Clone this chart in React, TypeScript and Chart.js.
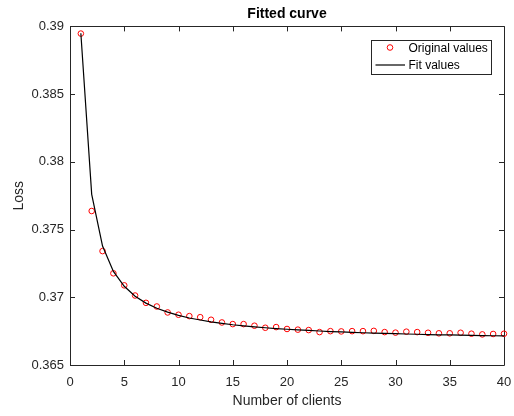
import React, { useEffect, useRef } from "react";
import { Chart, registerables } from "chart.js";

Chart.register(...registerables);

const clients = [1, 2, 3, 4, 5, 6, 7, 8, 9, 10, 11, 12, 13, 14, 15, 16, 17, 18, 19, 20, 21, 22, 23, 24, 25, 26, 27, 28, 29, 30, 31, 32, 33, 34, 35, 36, 37, 38, 39, 40];

const originalLoss = [0.38947, 0.37637, 0.37341, 0.37177, 0.37088, 0.37013, 0.36959, 0.36932, 0.36888, 0.36871, 0.36861, 0.36853, 0.36834, 0.36814, 0.36802, 0.36802, 0.3679, 0.36775, 0.3678, 0.36766, 0.36761, 0.36758, 0.36743, 0.3675, 0.36748, 0.3675, 0.3675, 0.36752, 0.36743, 0.36739, 0.36746, 0.36743, 0.36738, 0.36734, 0.36734, 0.36738, 0.36731, 0.36726, 0.36729, 0.36731];

const fitLoss = [0.3895, 0.3776, 0.37378, 0.37191, 0.37081, 0.37008, 0.36957, 0.36919, 0.3689, 0.36866, 0.36847, 0.36832, 0.36818, 0.36807, 0.36797, 0.36789, 0.36782, 0.36775, 0.36769, 0.36764, 0.36759, 0.36755, 0.36751, 0.36747, 0.36744, 0.36741, 0.36738, 0.36736, 0.36733, 0.36731, 0.36729, 0.36727, 0.36725, 0.36723, 0.36722, 0.3672, 0.36719, 0.36717, 0.36716, 0.36715];

const xTickValues = [0, 5, 10, 15, 20, 25, 30, 35, 40];
const yTickValues = [0.365, 0.37, 0.375, 0.38, 0.385, 0.39];

const seriesNames = ["Original values", "Fit values"];

const FONT = "'Liberation Sans', Arial, Helvetica, sans-serif";
const AXIS_COLOR = "#262626";

const framePlugin = {
  id: "matlabFrame",
  beforeDatasetsDraw(chart: any) {
    const { ctx, chartArea, scales } = chart;
    const { left, right, top, bottom } = chartArea;
    ctx.save();
    ctx.strokeStyle = AXIS_COLOR;
    ctx.lineWidth = 1;
    ctx.beginPath();
    ctx.rect(Math.round(left) + 0.5, Math.round(top) + 0.5, Math.round(right - left), Math.round(bottom - top));
    ctx.stroke();
    const tl = 5;
    ctx.beginPath();
    for (const v of xTickValues) {
      const px = Math.round(scales.x.getPixelForValue(v)) + 0.5;
      ctx.moveTo(px, bottom);
      ctx.lineTo(px, bottom - tl);
      ctx.moveTo(px, top);
      ctx.lineTo(px, top + tl);
    }
    for (const v of yTickValues) {
      const py = Math.round(scales.y.getPixelForValue(v)) + 0.5;
      ctx.moveTo(left, py);
      ctx.lineTo(left + tl, py);
      ctx.moveTo(right, py);
      ctx.lineTo(right - tl, py);
    }
    ctx.stroke();
    ctx.restore();
  },
};

const legendPlugin = {
  id: "matlabLegend",
  afterDatasetsDraw(chart: any) {
    const { ctx, chartArea } = chart;
    const bx = Math.round(chartArea.right - 133) + 0.5;
    const by = Math.round(chartArea.top + 14) + 0.5;
    const bw = 120;
    const bh = 34;
    ctx.save();
    ctx.fillStyle = "#ffffff";
    ctx.fillRect(bx, by, bw, bh);
    ctx.strokeStyle = AXIS_COLOR;
    ctx.lineWidth = 1;
    ctx.strokeRect(bx, by, bw, bh);

    const ds0 = chart.data.datasets[0];
    const ds1 = chart.data.datasets[1];
    ctx.beginPath();
    ctx.strokeStyle = ds0.borderColor;
    ctx.lineWidth = ds0.borderWidth;
    ctx.arc(bx + 18.5, by + 7, ds0.pointRadius, 0, Math.PI * 2);
    ctx.stroke();
    ctx.beginPath();
    ctx.strokeStyle = ds1.borderColor;
    ctx.lineWidth = ds1.borderWidth;
    ctx.moveTo(bx + 4, by + 24.5);
    ctx.lineTo(bx + 33.5, by + 24.5);
    ctx.stroke();

    ctx.fillStyle = "#000000";
    ctx.font = `12px ${FONT}`;
    ctx.textAlign = "left";
    ctx.textBaseline = "middle";
    ctx.fillText(ds0.label, bx + 37, by + 8);
    ctx.fillText(ds1.label, bx + 37, by + 25);
    ctx.restore();
  },
};

export default function App() {
  const canvasRef = useRef<HTMLCanvasElement | null>(null);

  useEffect(() => {
    document.body.style.margin = "0";
    const canvas = canvasRef.current;
    if (!canvas) return;
    const chart = new Chart(canvas, {
      type: "scatter",
      data: {
        datasets: [
          {
            label: seriesNames[0],
            data: clients.map((c, i) => ({ x: c, y: originalLoss[i] })),
            showLine: false,
            pointStyle: "circle",
            pointRadius: 2.8,
            pointBorderWidth: 1,
            borderWidth: 1,
            borderColor: "#ff0000",
            pointBorderColor: "#ff0000",
            pointBackgroundColor: "rgba(0,0,0,0)",
            backgroundColor: "rgba(0,0,0,0)",
            clip: false,
            order: 1,
          } as any,
          {
            label: seriesNames[1],
            data: clients.map((c, i) => ({ x: c, y: fitLoss[i] })),
            showLine: true,
            pointRadius: 0,
            borderColor: "#000000",
            borderWidth: 1.2,
            backgroundColor: "#000000",
            tension: 0,
            clip: false,
            order: 0,
          } as any,
        ],
      },
      options: {
        animation: false,
        responsive: false,
        maintainAspectRatio: false,
        events: [],
        layout: { padding: { left: 0, right: 10, top: 0, bottom: 0 } },
        plugins: {
          legend: { display: false },
          tooltip: { enabled: false },
          title: {
            display: true,
            text: "Fitted curve",
            fullSize: false,
            color: "#000000",
            font: { family: FONT, size: 14, weight: "bold" },
            padding: { top: 6, bottom: 3.6 },
          },
        },
        scales: {
          x: {
            type: "linear",
            min: 0,
            max: 40,
            afterBuildTicks: (scale: any) => {
              scale.ticks = xTickValues.map((v) => ({ value: v }));
            },
            afterFit: (scale: any) => {
              scale.height = 51;
              scale.paddingLeft = 0;
              scale.paddingRight = 0;
            },
            grid: { display: false, drawTicks: false },
            border: { display: false },
            ticks: {
              color: AXIS_COLOR,
              font: { family: FONT, size: 13 },
              padding: 10,
              maxRotation: 0,
              autoSkip: false,
              callback: (v: any) => String(v),
            },
            title: {
              display: true,
              text: "Number of clients",
              color: AXIS_COLOR,
              font: { family: FONT, size: 14 },
              padding: { top: 0, bottom: 6 },
            },
          },
          y: {
            type: "linear",
            min: 0.365,
            max: 0.39,
            afterBuildTicks: (scale: any) => {
              scale.ticks = yTickValues.map((v) => ({ value: v }));
            },
            afterFit: (scale: any) => {
              scale.width = 70;
              scale.paddingTop = 0;
              scale.paddingBottom = 0;
            },
            grid: { display: false, drawTicks: false },
            border: { display: false },
            ticks: {
              color: AXIS_COLOR,
              font: { family: FONT, size: 13 },
              padding: 6,
              autoSkip: false,
              callback: (v: any) => String(Number(Number(v).toFixed(3))),
            },
            title: {
              display: true,
              text: "Loss",
              color: AXIS_COLOR,
              font: { family: FONT, size: 14 },
              padding: { top: 11, bottom: 0 },
            },
          },
        },
      } as any,
      plugins: [framePlugin, legendPlugin],
    });
    return () => chart.destroy();
  }, []);

  return (
    <div style={{ position: "fixed", left: 0, top: 0, width: 514, height: 416, background: "#ffffff" }}>
      <canvas ref={canvasRef} width={514} height={416} style={{ display: "block", width: 514, height: 416 }} />
    </div>
  );
}
